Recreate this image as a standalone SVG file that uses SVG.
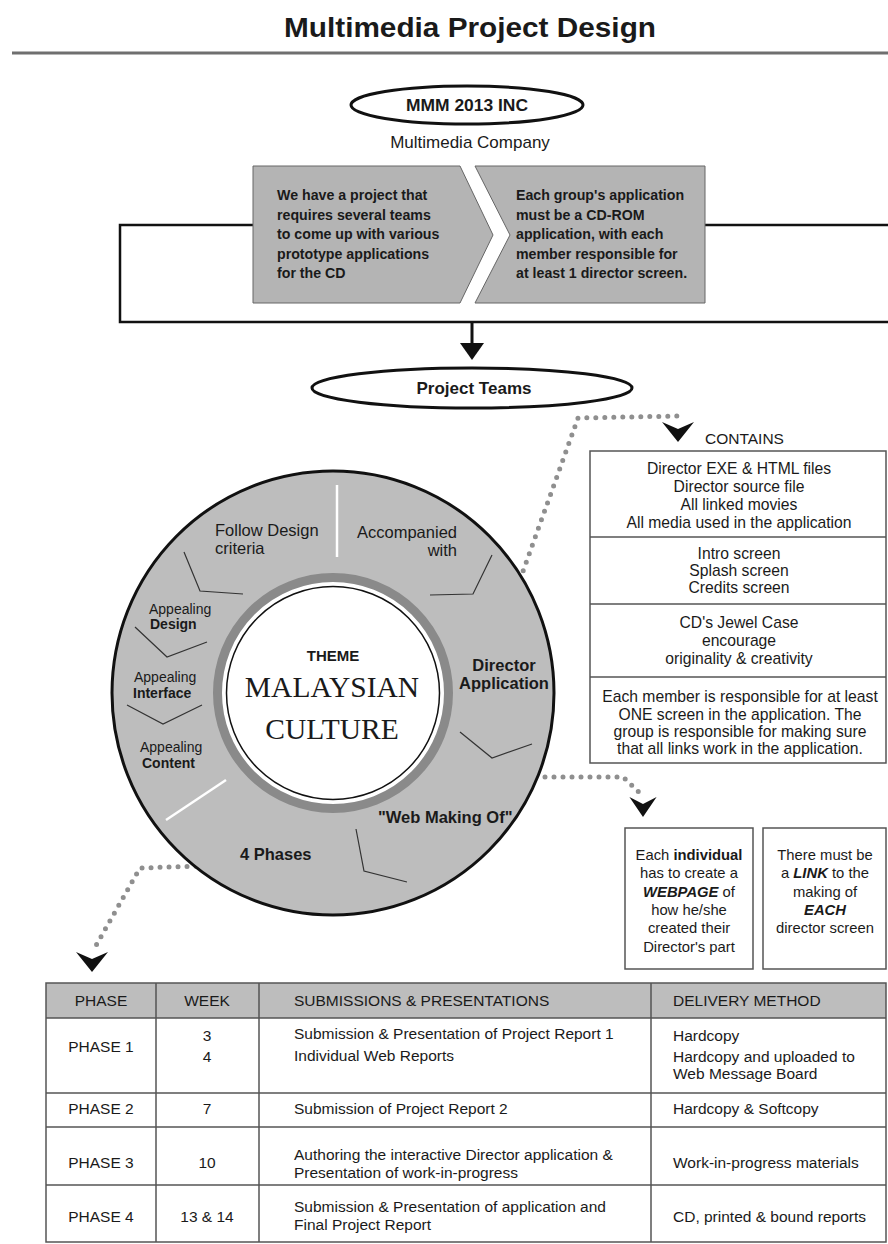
<svg xmlns="http://www.w3.org/2000/svg" width="888" height="1244" viewBox="0 0 888 1244">
<defs>
<style>
text{font-family:"Liberation Sans",Arial,sans-serif;fill:#1a1a1a}
.b{font-weight:bold}
.c{text-anchor:middle}
.box{font-size:14.2px;font-weight:bold}
.ct{font-size:15.7px;text-anchor:middle}
.lb{font-size:14.8px;text-anchor:middle}
.ring{font-size:16.5px}
.ap{font-size:14px}
.tb{font-size:15.5px;fill:#2a2a2a}
.dots{fill:none;stroke:#8f8f8f;stroke-width:5;stroke-linecap:round;stroke-dasharray:0 9}
.thin{fill:none;stroke:#333;stroke-width:1.2}
.grid{stroke:#555;stroke-width:1.5;fill:none}
</style>
<path id="chev" d="M-16,-10 L0,-3 L16,-10 L0,10 Z" fill="#111"/>
</defs>
<rect width="888" height="1244" fill="#fff"/>
<g id="title">
<text x="470" y="37" class="c b" font-size="27" textLength="372" lengthAdjust="spacingAndGlyphs">Multimedia Project Design</text>
<line x1="12" y1="53" x2="888" y2="53" stroke="#6f6f6f" stroke-width="3"/>
</g>
<g id="connectors">
<path d="M253,225 H120 V322 H888 M705,225 H888" fill="none" stroke="#111" stroke-width="2.5"/>
<line x1="472" y1="322" x2="472" y2="346" stroke="#111" stroke-width="3"/>
<polygon points="460,343 484,343 472,360" fill="#111"/>
<path class="dots" d="M508,613 L578,418 L678,416"/>
<use href="#chev" x="678" y="432"/>
<path class="dots" d="M545,777 L623,777 L642,795"/>
<use href="#chev" x="643" y="807" transform="translate(643,807) scale(0.85,1) translate(-643,-807)"/>
<path class="dots" d="M232,865 L140,868 L94,949"/>
<use href="#chev" x="92" y="962"/>
</g>
<g id="mmm">
<ellipse cx="467" cy="105" rx="116" ry="19" fill="#fff" stroke="#111" stroke-width="3"/>
<text x="467" y="111" class="c b" font-size="17" textLength="122" lengthAdjust="spacingAndGlyphs">MMM 2013 INC</text>
<text x="470" y="148" class="c" font-size="17" fill="#333">Multimedia Company</text>
</g>
<g id="box-left">
<polygon points="253,166 460,166 493,235 460,303 253,303" fill="#b4b4b4" stroke="#666" stroke-width="1"/>
<text class="box" x="277" y="200">We have a project that</text>
<text class="box" x="277" y="219.5">requires several teams</text>
<text class="box" x="277" y="239">to come up with various</text>
<text class="box" x="277" y="258.5">prototype applications</text>
<text class="box" x="277" y="278">for the CD</text>
</g>
<g id="box-right">
<polygon points="475,166 705,166 705,303 475,303 510,235" fill="#b4b4b4" stroke="#666" stroke-width="1"/>
<text class="box" x="516" y="200">Each group's application</text>
<text class="box" x="516" y="219.5">must be a CD-ROM</text>
<text class="box" x="516" y="239">application, with each</text>
<text class="box" x="516" y="258.5">member responsible for</text>
<text class="box" x="516" y="278">at least 1 director screen.</text>
</g>
<g id="project-teams">
<ellipse cx="472" cy="388" rx="160" ry="20" fill="#fff" stroke="#111" stroke-width="3"/>
<text x="474" y="394" class="c b" font-size="17">Project Teams</text>
</g>
<g id="circle">
<ellipse cx="333" cy="693" rx="221" ry="222" fill="#bdbdbd" stroke="#111" stroke-width="3"/>
<circle cx="333" cy="693" r="115.5" fill="#fff" stroke="#8a8a8a" stroke-width="9"/>
<circle cx="333" cy="693" r="106.5" fill="#fff" stroke="#111" stroke-width="1.5"/>
<line x1="337" y1="485" x2="337" y2="557" stroke="#fff" stroke-width="2.5"/>
<line x1="166" y1="820" x2="226" y2="780" stroke="#fff" stroke-width="2.5"/>
<polyline class="thin" points="184,552 200,591 243,594"/>
<polyline class="thin" points="135,627 167,657 207,642"/>
<polyline class="thin" points="127,705 163,724 202,705"/>
<polyline class="thin" points="492,555 473,594 430,595"/>
<polyline class="thin" points="460,732 492,758 532,744"/>
<polyline class="thin" points="356,829 364,871 407,882"/>
<text class="ring" x="215" y="536">Follow Design</text>
<text class="ring" x="215" y="554">criteria</text>
<text class="ring" x="457" y="538" text-anchor="end">Accompanied</text>
<text class="ring" x="457" y="556" text-anchor="end">with</text>
<text class="ap" x="149" y="614">Appealing</text>
<text class="ap b" x="150" y="629">Design</text>
<text class="ap" x="134" y="682">Appealing</text>
<text class="ap b" x="133" y="698">Interface</text>
<text class="ap" x="140" y="752">Appealing</text>
<text class="ap b" x="142" y="768">Content</text>
<text x="504" y="671" font-size="16.5" class="c b">Director</text>
<text x="504" y="689" font-size="16.5" class="c b">Application</text>
<text x="378" y="823" font-size="16.5" class="b">"Web Making Of"</text>
<text x="240" y="860" font-size="16.5" class="b">4 Phases</text>
<text x="333" y="661" font-size="15" class="c b">THEME</text>
<text x="332" y="697" font-size="29.5" class="c" style="font-family:'Liberation Serif','Times New Roman',serif">MALAYSIAN</text>
<text x="332" y="739" font-size="29.5" class="c" style="font-family:'Liberation Serif','Times New Roman',serif">CULTURE</text>
</g>
<g id="contains">
<text x="705" y="444" font-size="15.5">CONTAINS</text>
<rect x="590" y="451" width="296" height="312" fill="#fff" class="grid"/>
<line x1="590" y1="537" x2="886" y2="537" class="grid"/>
<line x1="590" y1="604" x2="886" y2="604" class="grid"/>
<line x1="590" y1="677" x2="886" y2="677" class="grid"/>
<text class="ct" x="739" y="474">Director EXE &amp; HTML files</text>
<text class="ct" x="739" y="492">Director source file</text>
<text class="ct" x="739" y="510">All linked movies</text>
<text class="ct" x="739" y="528">All media used in the application</text>
<text class="ct" x="739" y="559">Intro screen</text>
<text class="ct" x="739" y="576">Splash screen</text>
<text class="ct" x="739" y="593">Credits screen</text>
<text class="ct" x="739" y="628">CD's Jewel Case</text>
<text class="ct" x="739" y="646">encourage</text>
<text class="ct" x="739" y="664">originality &amp; creativity</text>
<text class="ct" x="740" y="702">Each member is responsible for at least</text>
<text class="ct" x="740" y="720">ONE screen in the application. The</text>
<text class="ct" x="740" y="737">group is responsible for making sure</text>
<text class="ct" x="740" y="754">that all links work in the application.</text>
</g>
<g id="webpage-box">
<rect x="625" y="828" width="128" height="141" fill="#fff" class="grid"/>
<text class="lb" x="689" y="860">Each <tspan class="b">individual</tspan></text>
<text class="lb" x="689" y="878">has to create a</text>
<text class="lb" x="689" y="897"><tspan class="b" font-style="italic">WEBPAGE</tspan> of</text>
<text class="lb" x="689" y="915">how he/she</text>
<text class="lb" x="689" y="933">created their</text>
<text class="lb" x="689" y="952">Director's part</text>
</g>
<g id="link-box">
<rect x="763" y="828" width="123" height="141" fill="#fff" class="grid"/>
<text class="lb" x="825" y="860">There must be</text>
<text class="lb" x="825" y="878">a <tspan class="b" font-style="italic">LINK</tspan> to the</text>
<text class="lb" x="825" y="897">making of</text>
<text class="lb b" x="825" y="915" font-style="italic">EACH</text>
<text class="lb" x="825" y="933">director screen</text>
</g>
<g id="table">
<rect x="46" y="983" width="840" height="35" fill="#bdbdbd"/>
<rect x="46" y="983" width="840" height="259" class="grid"/>
<g class="grid">
<line x1="46" y1="1018" x2="886" y2="1018"/>
<line x1="46" y1="1093" x2="886" y2="1093"/>
<line x1="46" y1="1127" x2="886" y2="1127"/>
<line x1="46" y1="1185" x2="886" y2="1185"/>
<line x1="156" y1="983" x2="156" y2="1242"/>
<line x1="259" y1="983" x2="259" y2="1242"/>
<line x1="651" y1="983" x2="651" y2="1242"/>
</g>
<g class="tb">
<text x="101" y="1006" class="c">PHASE</text>
<text x="207" y="1006" class="c">WEEK</text>
<text x="294" y="1006">SUBMISSIONS &amp; PRESENTATIONS</text>
<text x="673" y="1006">DELIVERY METHOD</text>
<text x="101" y="1052" class="c">PHASE 1</text>
<text x="207" y="1041" class="c">3</text>
<text x="207" y="1062" class="c">4</text>
<text x="294" y="1039">Submission &amp; Presentation of Project Report 1</text>
<text x="294" y="1061">Individual Web Reports</text>
<text x="673" y="1041">Hardcopy</text>
<text x="673" y="1062">Hardcopy and uploaded to</text>
<text x="673" y="1079">Web Message Board</text>
<text x="101" y="1114" class="c">PHASE 2</text>
<text x="207" y="1114" class="c">7</text>
<text x="294" y="1114">Submission of Project Report 2</text>
<text x="673" y="1114">Hardcopy &amp; Softcopy</text>
<text x="101" y="1168" class="c">PHASE 3</text>
<text x="207" y="1168" class="c">10</text>
<text x="294" y="1160">Authoring the interactive Director application &amp;</text>
<text x="294" y="1178">Presentation of work-in-progress</text>
<text x="673" y="1168">Work-in-progress materials</text>
<text x="101" y="1222" class="c">PHASE 4</text>
<text x="207" y="1222" class="c">13 &amp; 14</text>
<text x="294" y="1212">Submission &amp; Presentation of application and</text>
<text x="294" y="1230">Final Project Report</text>
<text x="673" y="1222">CD, printed &amp; bound reports</text>
</g>
</g>
</svg>
